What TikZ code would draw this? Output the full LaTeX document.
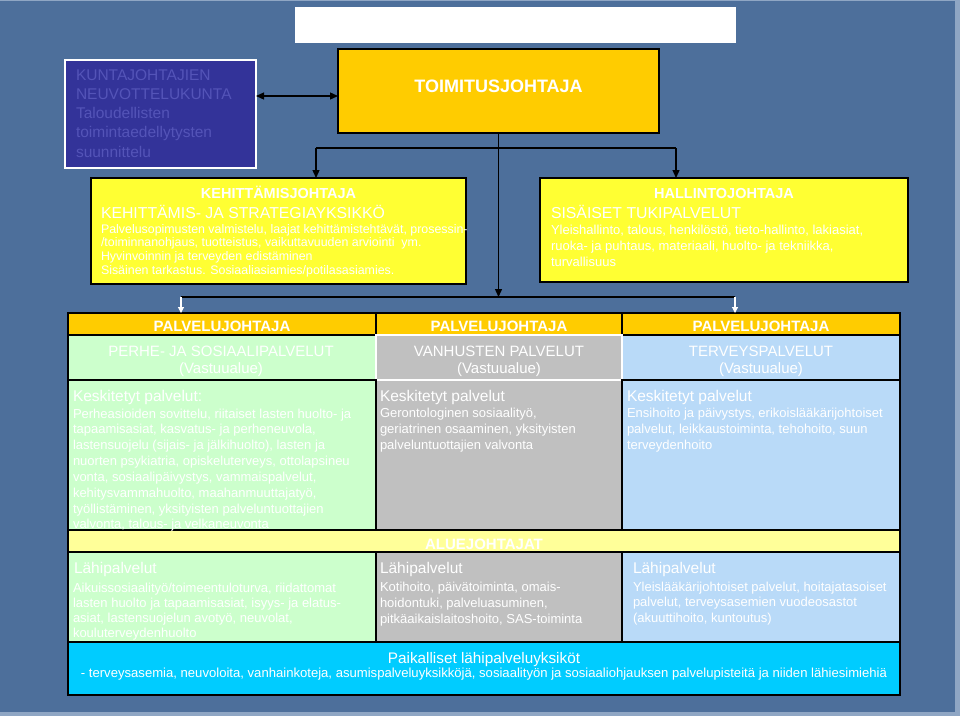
\documentclass[tikz,border=0pt]{standalone}
\usepackage{fontspec}
\setmainfont{Liberation Sans}
\usetikzlibrary{arrows.meta,calc}
\definecolor{bgblue}{HTML}{4D6F9B}
\definecolor{edgeblue}{HTML}{8FA6C4}
\definecolor{kuntafill}{HTML}{333399}
\definecolor{kuntatxt}{HTML}{5454B8}
\definecolor{orangey}{HTML}{FFCC00}
\definecolor{brighty}{HTML}{FFFF33}
\definecolor{paley}{HTML}{FFFF99}
\definecolor{paleg}{HTML}{CCFFCC}
\definecolor{graycell}{HTML}{C0C0C0}
\definecolor{paleb}{HTML}{B9DAF8}
\definecolor{cyanbar}{HTML}{00CCFF}
\newcommand\mlines[6]{%
  \foreach \t [count=\i from 0] in {#6} {\node[txt,#5] (#1\i) at ({#2},{#3+\i*#4}) {\t};}}
\tikzset{
  box/.style={anchor=north west, inner sep=0pt, outer sep=0pt},
  blk/.style={draw=black, line width=1.3pt},
  wht/.style={draw=white, line width=1.3pt},
  ln/.style={line width=1.3pt, draw=black},
  arr/.style={line width=1.3pt, -{Triangle[length=8pt,width=7pt]}},
  darr/.style={line width=1.3pt, {Triangle[length=8pt,width=7pt]}-{Triangle[length=8pt,width=7pt]}},
  warr/.style={line width=1.2pt, draw=white, -{Triangle[length=6pt,width=6pt]}},
  txt/.style={anchor=base west, inner sep=0pt, outer sep=0pt, text=white},
  ctr/.style={anchor=base},
  fkunta/.style={font=\fontsize{15.5}{18}\selectfont, text=kuntatxt},
  ftoim/.style={font=\fontsize{18}{21}\selectfont\bfseries},
  fboss/.style={font=\fontsize{14.5}{17}\selectfont\bfseries},
  funit/.style={font=\fontsize{15.8}{18}\selectfont},
  fsmk/.style={font=\fontsize{12.4}{14}\selectfont},
  fsm/.style={font=\fontsize{13}{15}\selectfont},
  fhead/.style={font=\fontsize{15}{17}\selectfont\bfseries},
  farea/.style={font=\fontsize{15}{17}\selectfont},
  fsec/.style={font=\fontsize{15.5}{18}\selectfont},
  fbar/.style={font=\fontsize{15.3}{18}\selectfont},
  fbarsm/.style={font=\fontsize{13.1}{15}\selectfont},
}
\begin{document}
\begin{tikzpicture}[x=1pt,y=-1pt]
\useasboundingbox (0,0) rectangle (960,716);
\fill[bgblue] (0,0) rectangle (960,716);
\fill[edgeblue] (955,0) rectangle (960,716);
\fill[edgeblue] (0,712) rectangle (960,716);
\fill[edgeblue] (0,0) rectangle (960,1);

% top boxes
\node[box, fill=white, minimum width=441pt, minimum height=36pt] (title) at (295,7) {};
\node[box, fill=kuntafill, draw=white, line width=1.5pt, minimum width=191pt, minimum height=108pt] (kunta) at (65,60) {};
\node[box, fill=orangey, blk, minimum width=321pt, minimum height=84pt] (toim) at (338,49) {};
\node[box, fill=brighty, blk, minimum width=375pt, minimum height=106pt] (keh) at (91,178) {};
\node[box, fill=brighty, blk, minimum width=368pt, minimum height=104pt] (hal) at (540,178) {};

% table
\node[box, fill=orangey, blk, minimum width=308pt, minimum height=22pt] (hp1) at (68,313) {};
\node[box, fill=orangey, blk, minimum width=246pt, minimum height=22pt] (hp2) at (376,313) {};
\node[box, fill=orangey, blk, minimum width=278pt, minimum height=22pt] (hp3) at (622,313) {};
\node[box, fill=paleg, blk, minimum width=308pt, minimum height=45pt] (va1) at (68,335) {};
\node[box, fill=paleb, blk, minimum width=278pt, minimum height=45pt] (va3) at (622,335) {};
\node[box, fill=graycell, wht, minimum width=246pt, minimum height=45pt] (va2) at (376,335) {};
\node[box, fill=graycell, wht, minimum width=246pt, minimum height=150pt] (ke2) at (376,380) {};
\node[box, fill=paleg, blk, minimum width=308pt, minimum height=150pt] (ke1) at (68,380) {};
\node[box, fill=paleb, blk, minimum width=278pt, minimum height=150pt] (ke3) at (622,380) {};
\node[box, fill=paley, blk, minimum width=832pt, minimum height=22pt] (alue) at (68,530) {};
\node[box, fill=paleg, blk, minimum width=308pt, minimum height=90pt] (la1) at (68,552) {};
\node[box, fill=graycell, blk, minimum width=246pt, minimum height=90pt] (la2) at (376,552) {};
\node[box, fill=paleb, blk, minimum width=278pt, minimum height=90pt] (la3) at (622,552) {};
\node[box, fill=cyanbar, blk, minimum width=832pt, minimum height=53pt] (bar) at (68,642) {};

% connectors
\draw[darr] ([yshift=-36pt]kunta.north east) -- ([yshift=-36pt]kunta.north east -| toim.west);
\coordinate (ja) at (316,148);
\coordinate (jb) at (676,148);
\coordinate (h2) at (0,297);
\coordinate (pa) at (181,297);
\coordinate (pb) at (735,297);
\draw[ln] (ja) -- (jb);
\draw[arr] (ja) -- (ja |- keh.north);
\draw[arr] (jb) -- (jb |- hal.north);
\draw[ln] (pa) -- (pb);
\draw[arr] (toim.south) -- (toim.south |- h2);
\draw[warr] (pa) -- (pa |- hp1.north);
\draw[warr] (pb) -- (pb |- hp3.north);

% texts: top
\mlines{kt}{76}{80}{19.25}{fkunta}{KUNTAJOHTAJIEN,NEUVOTTELUKUNTA,Taloudellisten,toimintaedellytysten,suunnittelu}
\node[txt,ctr,ftoim] (toimt) at (498.5,92) {TOIMITUSJOHTAJA};

\node[txt,ctr,fboss] (kehT) at (278.5,198) {KEHITTÄMISJOHTAJA};
\node[txt,funit] (kehU) at (101,218) {KEHITTÄMIS- JA STRATEGIAYKSIKKÖ};
\mlines{kehs}{101}{233}{13.7}{fsmk}{{Palvelusopimusten valmistelu, laajat kehittämistehtävät, prosessin-},{/toiminnanohjaus, tuotteistus, vaikuttavuuden arviointi\ \ ym.},{Hyvinvoinnin ja terveyden edistäminen},{Sisäinen tarkastus. Sosiaaliasiamies/potilasasiamies.}}

\node[txt,ctr,fboss] (halT) at (724,198) {HALLINTOJOHTAJA};
\node[txt,funit] (halU) at (551,218) {SISÄISET TUKIPALVELUT};
\mlines{hals}{551}{234}{16}{fsm}{{Yleishallinto, talous, henkilöstö, tieto-hallinto, lakiasiat,},{ruoka- ja puhtaus, materiaali, huolto- ja tekniikka,},{turvallisuus}}

% headers
\node[txt,ctr,fhead] (hp1t) at (222,331) {PALVELUJOHTAJA};
\node[txt,ctr,fhead] (hp2t) at (499,331) {PALVELUJOHTAJA};
\node[txt,ctr,fhead] (hp3t) at (761,331) {PALVELUJOHTAJA};
\node[txt,ctr,farea] (va1a) at (221,356) {PERHE- JA SOSIAALIPALVELUT};
\node[txt,ctr,farea] (va1b) at (221,373) {(Vastuualue)};
\node[txt,ctr,farea] (va2a) at (499,356) {VANHUSTEN PALVELUT};
\node[txt,ctr,farea] (va2b) at (499,373) {(Vastuualue)};
\node[txt,ctr,farea] (va3a) at (761,356) {TERVEYSPALVELUT};
\node[txt,ctr,farea] (va3b) at (761,373) {(Vastuualue)};

% keskitetyt
\node[txt,fsec] (ke1h) at (73,401) {Keskitetyt palvelut:};
\node[txt,fsec] (ke2h) at (380,401) {Keskitetyt palvelut};
\node[txt,fsec] (ke3h) at (627,401) {Keskitetyt palvelut};
\mlines{ke1s}{73}{418}{15.85}{fsm}{{Perheasioiden sovittelu, riitaiset lasten huolto- ja},{tapaamisasiat, kasvatus- ja perheneuvola,},{lastensuojelu (sijais- ja jälkihuolto), lasten ja},{nuorten psykiatria, opiskeluterveys, ottolapsineu},{vonta, sosiaalipäivystys, vammaispalvelut,},{kehitysvammahuolto, maahanmuuttajatyö,},{työllistäminen, yksityisten palveluntuottajien},{valvonta, talous- ja velkaneuvonta}}
\mlines{ke2s}{380}{417}{16}{fsm}{{Gerontologinen sosiaalityö,},{geriatrinen osaaminen, yksityisten},{palveluntuottajien valvonta}}
\mlines{ke3s}{627}{417}{16}{fsm}{{Ensihoito ja päivystys, erikoislääkärijohtoiset},{palvelut, leikkaustoiminta, tehohoito, suun},{terveydenhoito}}

% aluejohtajat
\node[txt,ctr,fhead] (aluet) at (484,549) {ALUEJOHTAJAT};

% lähipalvelut
\node[txt,fsec] (la1h) at (74,573) {Lähipalvelut};
\node[txt,fsec] (la2h) at (380,573) {Lähipalvelut};
\node[txt,fsec] (la3h) at (633,573) {Lähipalvelut};
\mlines{la1s}{73}{592}{15.2}{fsm}{{Aikuissosiaalityö/toimeentuloturva, riidattomat},{lasten huolto ja tapaamisasiat, isyys- ja elatus-},{asiat, lastensuojelun avotyö, neuvolat,},{kouluterveydenhuolto}}
\mlines{la2s}{380}{591}{16}{fsm}{{Kotihoito, päivätoiminta, omais-},{hoidontuki, palveluasuminen,},{pitkäaikaislaitoshoito, SAS-toiminta}}
\mlines{la3s}{633}{591}{15.5}{fsm}{{Yleislääkärijohtoiset palvelut, hoitajatasoiset},{palvelut, terveysasemien vuodeosastot},{(akuuttihoito, kuntoutus)}}

% bottom bar
\node[txt,ctr,fbar] (bar1) at (484,663) {Paikalliset lähipalveluyksiköt};
\node[txt,ctr,fbarsm] (bar2) at (484,677) {- terveysasemia, neuvoloita, vanhainkoteja, asumispalveluyksikköjä, sosiaalityön ja sosiaaliohjauksen palvelupisteitä ja niiden lähiesimiehiä};
\end{tikzpicture}
\end{document}
